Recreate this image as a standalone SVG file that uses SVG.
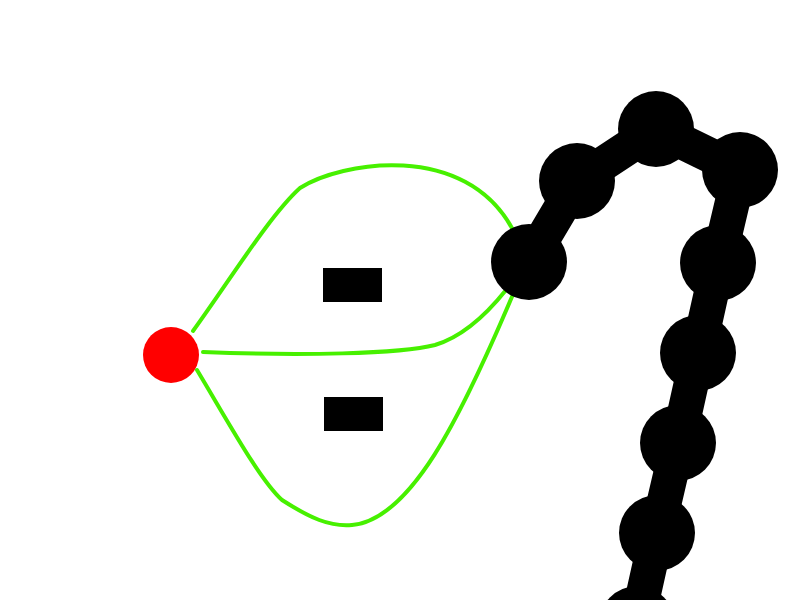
<svg xmlns="http://www.w3.org/2000/svg" width="800" height="600" viewBox="0 0 800 600">
<style>
.edge{fill:none;stroke:#47f000;stroke-width:4;stroke-linecap:round}
.bead{fill:#000}
.lbl{fill:#000}
</style>
<rect width="800" height="600" fill="#fff"/>
<g id="chain">
<polyline points="529,262 577,181 656,129 740,170 718,263 698,353 678,443 657,533 637,623" fill="none" stroke="#000" stroke-width="35" stroke-linejoin="round"/>
<circle class="bead" cx="577" cy="181" r="38"/>
<circle class="bead" cx="656" cy="129" r="38"/>
<circle class="bead" cx="740" cy="170" r="38"/>
<circle class="bead" cx="718" cy="263" r="38"/>
<circle class="bead" cx="698" cy="353" r="38"/>
<circle class="bead" cx="678" cy="443" r="38"/>
<circle class="bead" cx="657" cy="533" r="38"/>
<circle class="bead" cx="637" cy="624" r="38"/>
</g>
<g id="connectors">
<path class="edge" d="M193,331 C230,280 270,215 300,188 C340,162 465,140 513,230"/>
<path class="edge" d="M203,352 C300,356 400,354 435,345 C465,336 490,310 506,290"/>
<path class="edge" d="M197,370 C230,425 260,480 282,500 C310,518 330,527 352,525 C410,520 460,420 514,292"/>
</g>
<g id="node-red"><circle cx="171" cy="355" r="28" fill="#ff0000"/></g>
<g id="node-black"><circle cx="529" cy="262" r="38" fill="#000"/></g>
<g id="label-top"><rect class="lbl" x="323" y="268" width="59" height="34"/></g>
<g id="label-bottom"><rect class="lbl" x="324" y="397" width="59" height="34"/></g>
</svg>
